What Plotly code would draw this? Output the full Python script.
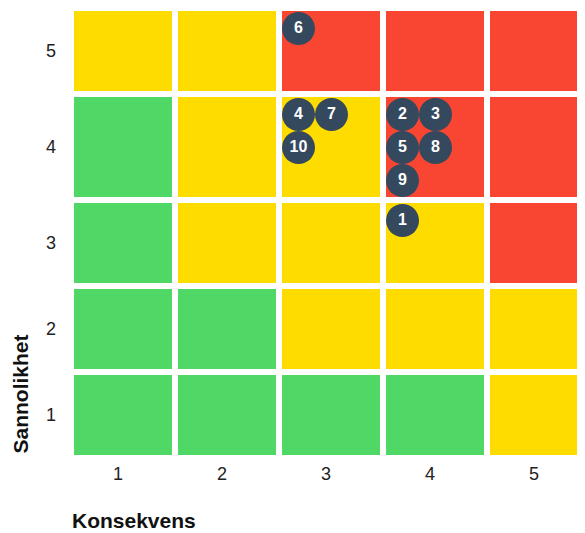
import math
import plotly.graph_objects as go

# ---- data ----
consequence_labels = ["1", "2", "3", "4", "5"]
probability_labels = ["1", "2", "3", "4", "5"]
# rows: probability 1..5, columns: consequence 1..5
risk_levels = [
    ["low", "low", "low", "low", "medium"],
    ["low", "low", "medium", "medium", "medium"],
    ["low", "medium", "medium", "medium", "high"],
    ["low", "medium", "medium", "high", "high"],
    ["medium", "medium", "high", "high", "high"],
]
risk_ids = [1, 2, 3, 4, 5, 6, 7, 8, 9, 10]
risk_consequence = [4, 4, 4, 3, 4, 3, 3, 4, 4, 3]
risk_probability = [3, 4, 4, 4, 4, 5, 4, 4, 4, 4]

# ---- style / layout constants ----
level_colors = {"low": "#4fd866", "medium": "#fedc00", "high": "#f84632"}
dot_color = "#34495e"
CELL_W = 98
GAP = 6
MIN_ROW_H = 80
DOT = 33
DOT_PAD = 1
DOTS_PER_LINE = 2
FONT = "Liberation Sans, Arial, sans-serif"

n_c = len(consequence_labels)
n_p = len(probability_labels)

# group risks per cell
cells = {}
for rid, c, p in zip(risk_ids, risk_consequence, risk_probability):
    cells.setdefault((c, p), []).append(rid)

# row heights (grow when a cell holds many dots)
row_h = []
for p in range(1, n_p + 1):
    most = max([len(cells.get((c, p), [])) for c in range(1, n_c + 1)])
    lines = math.ceil(most / DOTS_PER_LINE)
    row_h.append(max(MIN_ROW_H, DOT * lines + 1))
row_bottom = []
acc = 0
for h in row_h:
    row_bottom.append(acc)
    acc += h + GAP
total_h = acc - GAP

fig = go.Figure()

shapes = []
for pi in range(n_p):
    for ci in range(n_c):
        x0 = ci * (CELL_W + GAP)
        shapes.append(dict(
            type="rect", xref="x", yref="y",
            x0=x0, x1=x0 + CELL_W,
            y0=row_bottom[pi], y1=row_bottom[pi] + row_h[pi],
            fillcolor=level_colors[risk_levels[pi][ci]],
            line=dict(width=0), layer="below",
        ))

xs, ys, txt = [], [], []
for (c, p), ids in cells.items():
    left = (c - 1) * (CELL_W + GAP)
    top = row_bottom[p - 1] + row_h[p - 1]
    for k, rid in enumerate(ids):
        xs.append(left + DOT / 2 + DOT * (k % DOTS_PER_LINE))
        ys.append(top - DOT_PAD - DOT / 2 - DOT * (k // DOTS_PER_LINE))
        txt.append(f"<b>{rid}</b>")

fig.add_trace(go.Scatter(
    x=xs, y=ys, text=txt, mode="markers+text",
    marker=dict(size=DOT, color=dot_color, line=dict(width=0)),
    textposition="middle center",
    textfont=dict(family=FONT, size=16, color="white"),
    hoverinfo="skip", showlegend=False, cliponaxis=False,
))

ML, MT, MB = 66, 3, 86
plot_w = 585 - ML
fig.update_layout(
    width=585, height=533,
    margin=dict(l=ML, r=0, t=MT, b=MB, pad=0),
    paper_bgcolor="white", plot_bgcolor="white",
    shapes=shapes,
    font=dict(family=FONT, size=18, color="#222"),
    xaxis=dict(
        range=[0, plot_w], showgrid=False, zeroline=False, showline=False,
        tickvals=[ci * (CELL_W + GAP) + CELL_W / 2 for ci in range(n_c)],
        ticktext=consequence_labels, ticks="", ticklabelstandoff=6,
        ticklabelshift=-5, fixedrange=True,
    ),
    yaxis=dict(
        range=[0, total_h], showgrid=False, zeroline=False, showline=False,
        tickvals=[row_bottom[i] + row_h[i] / 2 for i in range(n_p)],
        ticktext=probability_labels, ticks="", ticklabelstandoff=17,
        fixedrange=True,
    ),
    annotations=[
        dict(text="<b>Sannolikhet</b>", xref="paper", yref="paper", x=0, y=0,
             xanchor="center", yanchor="bottom", textangle=-90, xshift=-54, yshift=-1,
             showarrow=False, font=dict(family=FONT, size=21, color="#111")),
        dict(text="<b>Konsekvens</b>", xref="paper", yref="paper", x=0, y=0,
             xanchor="left", yanchor="middle", xshift=-4, yshift=-65,
             showarrow=False, font=dict(family=FONT, size=21, color="#111")),
    ],
)

fig.write_html("out.html")
